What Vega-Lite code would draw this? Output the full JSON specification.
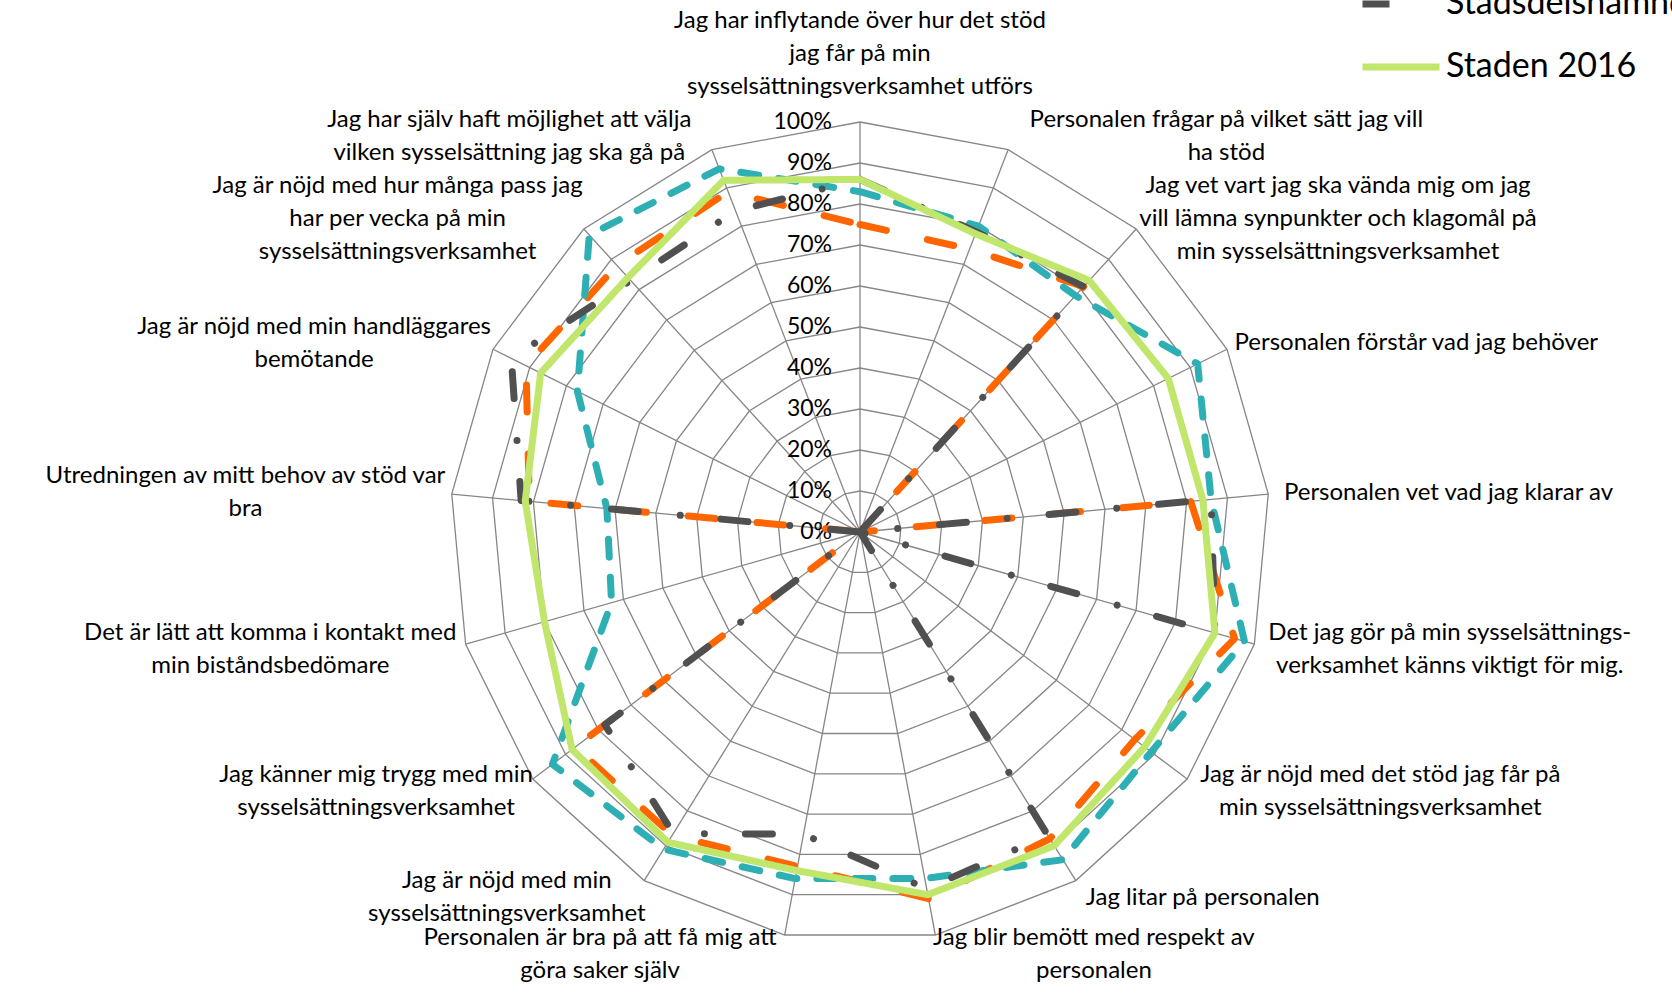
{
  "$schema": "https://vega.github.io/schema/vega-lite/v6.json",
  "width": 820,
  "height": 820,
  "autosize": "none",
  "padding": {"left": 450, "top": 122, "right": 402, "bottom": 53},
  "background": "white",
  "config": {"view": {"stroke": null}, "font": "Lato"},
  "datasets": {
    "axes": [
      {"i": 0, "label": ["Jag har inflytande över hur det stöd", "jag får på min", "sysselsättningsverksamhet utförs"]},
      {"i": 1, "label": ["Personalen frågar på vilket sätt jag vill", "ha stöd"]},
      {"i": 2, "label": ["Jag vet vart jag ska vända mig om jag", "vill lämna synpunkter och klagomål på", "min sysselsättningsverksamhet"]},
      {"i": 3, "label": ["Personalen förstår vad jag behöver"]},
      {"i": 4, "label": ["Personalen vet vad jag klarar av"]},
      {"i": 5, "label": ["Det jag gör på min sysselsättnings-", "verksamhet känns viktigt för mig."]},
      {"i": 6, "label": ["Jag är nöjd med det stöd jag får på", "min sysselsättningsverksamhet"]},
      {"i": 7, "label": ["Jag litar på personalen"]},
      {"i": 8, "label": ["Jag blir bemött med respekt av", "personalen"]},
      {"i": 9, "label": ["Personalen är bra på att få mig att", "göra saker själv"]},
      {"i": 10, "label": ["Jag är nöjd med min", "sysselsättningsverksamhet"]},
      {"i": 11, "label": ["Jag känner mig trygg med min", "sysselsättningsverksamhet"]},
      {"i": 12, "label": ["Det är lätt att komma i kontakt med", "min biståndsbedömare"]},
      {"i": 13, "label": ["Utredningen av mitt behov av stöd var", "bra"]},
      {"i": 14, "label": ["Jag är nöjd med min handläggares", "bemötande"]},
      {"i": 15, "label": ["Jag är nöjd med hur många pass jag", "har per vecka på min", "sysselsättningsverksamhet"]},
      {"i": 16, "label": ["Jag har själv haft möjlighet att välja", "vilken sysselsättning jag ska gå på"]}
    ],
    "grid": [
      {"level": 0, "i": [0,1,2,3,4,5,6,7,8,9,10,11,12,13,14,15,16]},
      {"level": 0.1, "i": [0,1,2,3,4,5,6,7,8,9,10,11,12,13,14,15,16]},
      {"level": 0.2, "i": [0,1,2,3,4,5,6,7,8,9,10,11,12,13,14,15,16]},
      {"level": 0.3, "i": [0,1,2,3,4,5,6,7,8,9,10,11,12,13,14,15,16]},
      {"level": 0.4, "i": [0,1,2,3,4,5,6,7,8,9,10,11,12,13,14,15,16]},
      {"level": 0.5, "i": [0,1,2,3,4,5,6,7,8,9,10,11,12,13,14,15,16]},
      {"level": 0.6, "i": [0,1,2,3,4,5,6,7,8,9,10,11,12,13,14,15,16]},
      {"level": 0.7, "i": [0,1,2,3,4,5,6,7,8,9,10,11,12,13,14,15,16]},
      {"level": 0.8, "i": [0,1,2,3,4,5,6,7,8,9,10,11,12,13,14,15,16]},
      {"level": 0.9, "i": [0,1,2,3,4,5,6,7,8,9,10,11,12,13,14,15,16]},
      {"level": 1.0, "i": [0,1,2,3,4,5,6,7,8,9,10,11,12,13,14,15,16]}
    ],
    "scores": [
      {"serie": "Stadsdelsnämnd 2017", "i": 0, "value": 0.75},
      {"serie": "Stadsdelsnämnd 2017", "i": 1, "value": 0.74},
      {"serie": "Stadsdelsnämnd 2017", "i": 2, "value": 0.81},
      {"serie": "Stadsdelsnämnd 2017", "i": 3, "value": 0},
      {"serie": "Stadsdelsnämnd 2017", "i": 4, "value": 0.81},
      {"serie": "Stadsdelsnämnd 2017", "i": 5, "value": 0.95},
      {"serie": "Stadsdelsnämnd 2017", "i": 6, "value": 0.84},
      {"serie": "Stadsdelsnämnd 2017", "i": 7, "value": 0.88},
      {"serie": "Stadsdelsnämnd 2017", "i": 8, "value": 0.91},
      {"serie": "Stadsdelsnämnd 2017", "i": 9, "value": 0.83},
      {"serie": "Stadsdelsnämnd 2017", "i": 10, "value": 0.87},
      {"serie": "Stadsdelsnämnd 2017", "i": 11, "value": 0.87},
      {"serie": "Stadsdelsnämnd 2017", "i": 12, "value": 0},
      {"serie": "Stadsdelsnämnd 2017", "i": 13, "value": 0.81},
      {"serie": "Stadsdelsnämnd 2017", "i": 14, "value": 0.91},
      {"serie": "Stadsdelsnämnd 2017", "i": 15, "value": 0.88},
      {"serie": "Stadsdelsnämnd 2017", "i": 16, "value": 0.89},
      {"serie": "Staden 2017", "i": 0, "value": 0.83},
      {"serie": "Staden 2017", "i": 1, "value": 0.80},
      {"serie": "Staden 2017", "i": 2, "value": 0.78},
      {"serie": "Staden 2017", "i": 3, "value": 0.92},
      {"serie": "Staden 2017", "i": 4, "value": 0.86},
      {"serie": "Staden 2017", "i": 5, "value": 0.975},
      {"serie": "Staden 2017", "i": 6, "value": 0.89},
      {"serie": "Staden 2017", "i": 7, "value": 0.94},
      {"serie": "Staden 2017", "i": 8, "value": 0.86},
      {"serie": "Staden 2017", "i": 9, "value": 0.86},
      {"serie": "Staden 2017", "i": 10, "value": 0.91},
      {"serie": "Staden 2017", "i": 11, "value": 0.94},
      {"serie": "Staden 2017", "i": 12, "value": 0.63},
      {"serie": "Staden 2017", "i": 13, "value": 0.62},
      {"serie": "Staden 2017", "i": 14, "value": 0.77},
      {"serie": "Staden 2017", "i": 15, "value": 0.98},
      {"serie": "Staden 2017", "i": 16, "value": 0.95},
      {"serie": "Stadsdelsnämnd 2016", "i": 0, "value": 0.86},
      {"serie": "Stadsdelsnämnd 2016", "i": 1, "value": 0.785},
      {"serie": "Stadsdelsnämnd 2016", "i": 2, "value": 0.81},
      {"serie": "Stadsdelsnämnd 2016", "i": 3, "value": 0},
      {"serie": "Stadsdelsnämnd 2016", "i": 4, "value": 0.86},
      {"serie": "Stadsdelsnämnd 2016", "i": 5, "value": 0.90},
      {"serie": "Stadsdelsnämnd 2016", "i": 6, "value": 0},
      {"serie": "Stadsdelsnämnd 2016", "i": 7, "value": 0.87},
      {"serie": "Stadsdelsnämnd 2016", "i": 8, "value": 0.885},
      {"serie": "Stadsdelsnämnd 2016", "i": 9, "value": 0.75},
      {"serie": "Stadsdelsnämnd 2016", "i": 10, "value": 0.865},
      {"serie": "Stadsdelsnämnd 2016", "i": 11, "value": 0.78},
      {"serie": "Stadsdelsnämnd 2016", "i": 12, "value": 0},
      {"serie": "Stadsdelsnämnd 2016", "i": 13, "value": 0.83},
      {"serie": "Stadsdelsnämnd 2016", "i": 14, "value": 0.95},
      {"serie": "Stadsdelsnämnd 2016", "i": 15, "value": 0.83},
      {"serie": "Stadsdelsnämnd 2016", "i": 16, "value": 0.84},
      {"serie": "Staden 2016", "i": 0, "value": 0.86},
      {"serie": "Staden 2016", "i": 1, "value": 0.78},
      {"serie": "Staden 2016", "i": 2, "value": 0.83},
      {"serie": "Staden 2016", "i": 3, "value": 0.84},
      {"serie": "Staden 2016", "i": 4, "value": 0.84},
      {"serie": "Staden 2016", "i": 5, "value": 0.90},
      {"serie": "Staden 2016", "i": 6, "value": 0.87},
      {"serie": "Staden 2016", "i": 7, "value": 0.90},
      {"serie": "Staden 2016", "i": 8, "value": 0.90},
      {"serie": "Staden 2016", "i": 9, "value": 0.84},
      {"serie": "Staden 2016", "i": 10, "value": 0.89},
      {"serie": "Staden 2016", "i": 11, "value": 0.88},
      {"serie": "Staden 2016", "i": 12, "value": 0.80},
      {"serie": "Staden 2016", "i": 13, "value": 0.82},
      {"serie": "Staden 2016", "i": 14, "value": 0.87},
      {"serie": "Staden 2016", "i": 15, "value": 0.84},
      {"serie": "Staden 2016", "i": 16, "value": 0.92}
    ]
  },
  "layer": [
    {
      "data": {"name": "grid"},
      "transform": [
        {"flatten": ["i"]},
        {"calculate": "datum.i*2*PI/17", "as": "t"},
        {"calculate": "datum.level*sin(datum.t)", "as": "gx"},
        {"calculate": "datum.level*cos(datum.t)", "as": "gy"}
      ],
      "mark": {"type": "line", "interpolate": "linear-closed", "stroke": "#868686", "strokeWidth": 1.3},
      "encoding": {
        "x": {"field": "gx", "type": "quantitative", "scale": {"domain": [-1, 1], "nice": false, "zero": false}, "axis": null},
        "y": {"field": "gy", "type": "quantitative", "scale": {"domain": [-1, 1], "nice": false, "zero": false}, "axis": null},
        "detail": {"field": "level", "type": "nominal"},
        "order": {"field": "i", "type": "quantitative"}
      }
    },
    {
      "data": {"name": "axes"},
      "transform": [
        {"calculate": "datum.i*2*PI/17", "as": "t"},
        {"calculate": "sin(datum.t)", "as": "vx"},
        {"calculate": "cos(datum.t)", "as": "vy"},
        {"calculate": "0", "as": "z"}
      ],
      "mark": {"type": "rule", "stroke": "#868686", "strokeWidth": 1.3},
      "encoding": {
        "x": {"field": "z", "type": "quantitative"},
        "y": {"field": "z", "type": "quantitative"},
        "x2": {"field": "vx"},
        "y2": {"field": "vy"}
      }
    },
    {
      "data": {"name": "grid"},
      "transform": [{"calculate": "0", "as": "z"}],
      "mark": {"type": "text", "align": "right", "baseline": "middle", "dx": -28, "fontSize": 23, "font": "Lato", "color": "#000000"},
      "encoding": {
        "x": {"field": "z", "type": "quantitative"},
        "y": {"field": "level", "type": "quantitative"},
        "text": {"field": "level", "type": "quantitative", "format": ".0%"}
      }
    },
    {
      "data": {"name": "scores"},
      "transform": [
        {"calculate": "datum.i*2*PI/17", "as": "t"},
        {"calculate": "datum.value*sin(datum.t)", "as": "px"},
        {"calculate": "datum.value*cos(datum.t)", "as": "py"}
      ],
      "mark": {"type": "line", "interpolate": "linear-closed", "strokeWidth": 7, "strokeCap": "round", "strokeJoin": "round"},
      "encoding": {
        "x": {"field": "px", "type": "quantitative"},
        "y": {"field": "py", "type": "quantitative"},
        "order": {"field": "i", "type": "quantitative"},
        "color": {
          "field": "serie", "type": "nominal",
          "scale": {"domain": ["Stadsdelsnämnd 2017", "Staden 2017", "Stadsdelsnämnd 2016", "Staden 2016"], "range": ["#FF6600", "#2EAFB4", "#505050", "#C0E66B"]},
          "legend": {"orient": "none", "legendX": 909, "legendY": -286, "title": null, "symbolType": "stroke", "symbolSize": 5929, "symbolStrokeWidth": 7, "labelFontSize": 34, "labelFont": "Lato", "labelColor": "#000000", "labelOffset": 3, "labelLimit": 0, "rowPadding": 4, "padding": 0}
        },
        "strokeDash": {
          "field": "serie", "type": "nominal",
          "scale": {"domain": ["Stadsdelsnämnd 2017", "Staden 2017", "Stadsdelsnämnd 2016", "Staden 2016"], "range": [[27, 42], [18, 20], [27, 41, 0.01, 42], [1, 0]]},
          "legend": {"orient": "none", "legendX": 909, "legendY": -286, "title": null, "symbolType": "stroke", "symbolSize": 5929, "symbolStrokeWidth": 7, "labelFontSize": 34, "labelFont": "Lato", "labelColor": "#000000", "labelOffset": 3, "labelLimit": 0, "rowPadding": 4, "padding": 0}
        }
      }
    },
    {
      "data": {"name": "axes"},
      "transform": [
        {"calculate": "datum.i*2*PI/17", "as": "t"},
        {"calculate": "sin(datum.t)", "as": "vx"},
        {"calculate": "cos(datum.t)", "as": "vy"},
        {"calculate": "length(datum.label)", "as": "n"},
        {"calculate": "max(length(datum.label[0]), length(datum.label[1] || ''), length(datum.label[2] || ''))*10.4/2/410", "as": "w"},
        {"calculate": "1.034*datum.vx + (abs(datum.vx) < 0.1 ? 0 : (datum.vx > 0 ? 1 : -1)*datum.w)", "as": "lx"},
        {"calculate": "1.034*datum.vy + (datum.n - 1)*16.5/410 + (datum.vy < 0 ? datum.vy*6/410 : 0) + (abs(datum.vx) < 0.1 ? datum.n*16.5/410 + 0.011 : 0)", "as": "ly"}
      ],
      "mark": {"type": "text", "align": "center", "baseline": "middle", "fontSize": 24, "lineHeight": 33, "font": "Lato", "color": "#000000"},
      "encoding": {
        "x": {"field": "lx", "type": "quantitative"},
        "y": {"field": "ly", "type": "quantitative"},
        "text": {"field": "label", "type": "nominal"}
      }
    }
  ]
}
